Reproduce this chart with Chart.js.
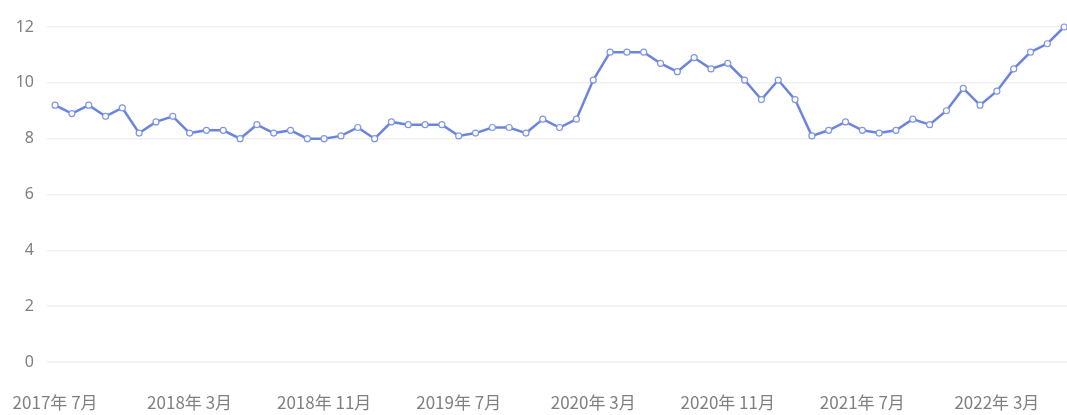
<!DOCTYPE html>
<html>
<head>
<meta charset="utf-8">
<script src="https://cdn.jsdelivr.net/npm/chart.js@4"></script>
<style>
  html, body { margin: 0; padding: 0; background: #fff; overflow: hidden; }
  #wrap { width: 1067px; height: 415px; }
</style>
</head>
<body>
<div id="wrap"><canvas id="line-chart"></canvas></div>
<script>
// monthly values, 2017-07 .. 2022-07
const months = [];
for (let y = 2017, m = 7; y < 2022 || (y === 2022 && m <= 7); m++) {
    if (m > 12) { m = 1; y++; }
    months.push(y + '年 ' + m + '月');
}
const values = [
    9.2, 8.9, 9.2, 8.8, 9.1, 8.2, 8.6, 8.8, 8.2, 8.3, 8.3, 8.0,
    8.5, 8.2, 8.3, 8.0, 8.0, 8.1, 8.4, 8.0, 8.6, 8.5, 8.5, 8.5,
    8.1, 8.2, 8.4, 8.4, 8.2, 8.7, 8.4, 8.7, 10.1, 11.1, 11.1, 11.1,
    10.7, 10.4, 10.9, 10.5, 10.7, 10.1, 9.4, 10.1, 9.4, 8.1, 8.3, 8.6,
    8.3, 8.2, 8.3, 8.7, 8.5, 9.0, 9.8, 9.2, 9.7, 10.5, 11.1, 11.4, 12.0
];
// x labels shown every 8 months
const tickIndex = [0, 8, 16, 24, 32, 40, 48, 56];
const yTicks = [0, 2, 4, 6, 8, 10, 12];

const points = values.map((v, i) => ({ x: i, y: v }));

new Chart(document.getElementById('line-chart'), {
    type: 'line',
    data: {
        datasets: [{
            data: points,
            borderColor: '#6a84e0',
            borderWidth: 2.5,
            pointRadius: 3,
            pointBorderWidth: 1.2,
            pointBackgroundColor: '#fff',
            pointBorderColor: '#8096e4',
            tension: 0,
            clip: 8
        }]
    },
    options: {
        responsive: true,
        maintainAspectRatio: false,
        animation: false,
        layout: { autoPadding: false, padding: { top: 27, left: 0, right: 0, bottom: 0 } },
        plugins: { legend: { display: false }, tooltip: { enabled: false } },
        scales: {
            x: {
                type: 'linear',
                min: -0.48,
                max: 60.17,
                afterFit: s => {
                    s.height = 53;
                    // let the first/last label hang over the edge
                    s.paddingLeft = 0;
                    s.paddingRight = 0;
                },
                afterBuildTicks: s => { s.ticks = tickIndex.map(v => ({ value: v })); },
                grid: { display: false, drawTicks: false },
                border: { display: false },
                ticks: {
                    autoSkip: false,
                    maxRotation: 0,
                    padding: 30,
                    color: '#808080',
                    font: { family: '"Noto Sans CJK SC", "Noto Sans", sans-serif', size: 17 },
                    callback: v => months[v]
                }
            },
            y: {
                min: 0,
                max: 12,
                afterFit: s => { s.width = 47; },
                afterBuildTicks: s => { s.ticks = yTicks.map(v => ({ value: v })); },
                grid: { color: '#f0f0f0', lineWidth: 1.5, drawTicks: false },
                border: { display: false },
                ticks: {
                    padding: 13,
                    color: '#808080',
                    font: { family: '"Noto Sans", sans-serif', size: 16 }
                }
            }
        }
    }
});
</script>
</body>
</html>
